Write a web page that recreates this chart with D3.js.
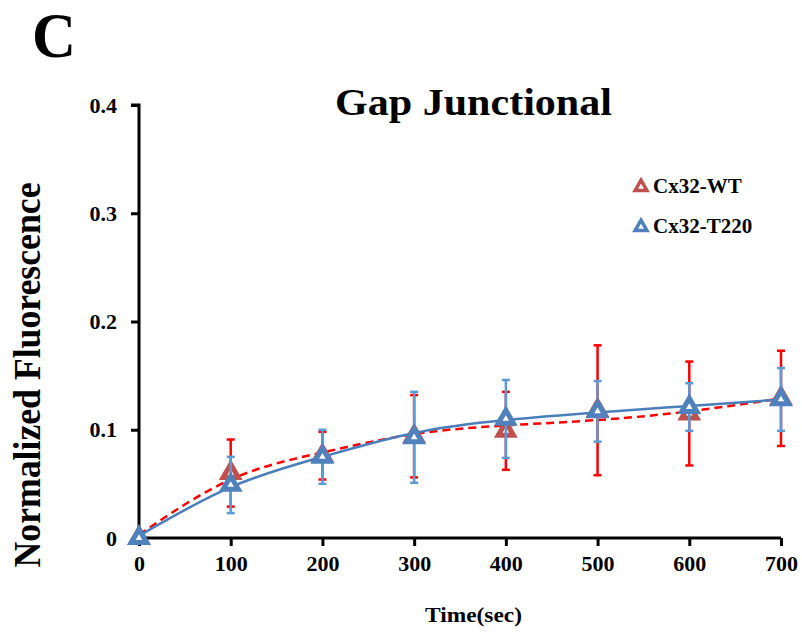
<!DOCTYPE html>
<html lang="en">
<head>
<meta charset="UTF-8">
<script src="https://d3js.org/d3.v7.min.js"></script>
<title>Gap Junctional</title>
<style>
  body { margin: 0; background: #fff; }
  text { font-family: "Liberation Serif", "Times New Roman", serif; font-weight: bold; fill: #000; }
</style>
</head>
<body>
<script>
// time points (sec)
const times = [0, 100, 200, 300, 400, 500, 600, 700];

// Cx32-WT
const wtMean = [0, 0.060, 0.076, 0.094, 0.099, 0.118, 0.115, 0.129];
const wtErr  = [0, 0.031, 0.022, 0.038, 0.036, 0.060, 0.048, 0.044];
const wtFit  = [0.003, 0.054, 0.079, 0.096, 0.104, 0.109, 0.117, 0.129];

// Cx32-T220
const tMean = [0, 0.049, 0.075, 0.093, 0.110, 0.117, 0.121, 0.128];
const tErr  = [0, 0.026, 0.025, 0.042, 0.036, 0.028, 0.022, 0.029];
const tFit  = [0.002, 0.047, 0.075, 0.097, 0.109, 0.116, 0.122, 0.128];

const yTicks = [0, 0.1, 0.2, 0.3, 0.4];
const xTicks = [0, 100, 200, 300, 400, 500, 600, 700];

const W = 802, H = 633;
const svg = d3.select("body").append("svg").attr("width", W).attr("height", H);

const x = d3.scaleLinear().domain([0, 700]).range([139, 781]);
const y = d3.scaleLinear().domain([0, 0.4]).range([538, 105]);

const stretch = (sel, len) => sel.attr("textLength", len).attr("lengthAdjust", "spacingAndGlyphs");

// panel letter, title
stretch(svg.append("text").attr("x", 32).attr("y", 57).attr("font-size", 64).text("C"), 44);
stretch(svg.append("text").attr("x", 335).attr("y", 115).attr("font-size", 37).text("Gap Junctional"), 277);

// axes
const yAxis = svg.append("g").attr("transform", "translate(139,0)")
  .call(d3.axisLeft(y).tickValues(yTicks).tickSize(8).tickFormat(d => d === 0 ? "0" : d3.format(".1f")(d)));
const xAxis = svg.append("g").attr("transform", "translate(0,538)")
  .call(d3.axisBottom(x).tickValues(xTicks).tickSize(8));
[yAxis, xAxis].forEach(g => {
  g.select(".domain").attr("stroke", "#000").attr("stroke-width", 3);
  g.selectAll(".tick line").attr("stroke", "#000").attr("stroke-width", 3);
  g.selectAll(".tick text").attr("font-size", 22).attr("font-family", "Liberation Serif").attr("font-weight", "bold");
});
yAxis.select(".domain").attr("d", "M-8,105H0V538");
xAxis.select(".domain").attr("d", "M139,0H781");
yAxis.selectAll(".tick text").attr("x", -22);
xAxis.selectAll(".tick text").attr("y", 17);

// axis titles
stretch(svg.append("text").attr("transform", "translate(40,375) rotate(-90)").attr("text-anchor", "middle")
  .attr("font-size", 37).text("Normalized Fluorescence"), 385);
stretch(svg.append("text").attr("x", 425).attr("y", 622)
  .attr("font-size", 22).text("Time(sec)"), 97);

const series = [
  { mean: wtMean, err: wtErr, fit: wtFit, line: "#ff0000", dash: "8,5", bar: "#ff0000", mark: "#c0504d" },
  { mean: tMean, err: tErr, fit: tFit, line: "#4a7ebb", dash: null, bar: "#5b9bd5", mark: "#4f81bd" }
];

const tri = d3.symbol().type(d3.symbolTriangle).size(100);

series.forEach(s => {
  const g = svg.append("g");
  const pts = times.map((t, i) => ({ t, m: s.mean[i], e: s.err[i], f: s.fit[i] }));
  // error bars
  pts.filter(p => p.e > 0).forEach(p => {
    g.append("line").attr("x1", x(p.t)).attr("x2", x(p.t)).attr("y1", y(p.m - p.e)).attr("y2", y(p.m + p.e))
      .attr("stroke", s.bar).attr("stroke-width", 2.5);
    [p.m - p.e, p.m + p.e].forEach(v => {
      g.append("line").attr("x1", x(p.t) - 4).attr("x2", x(p.t) + 4).attr("y1", y(v)).attr("y2", y(v))
        .attr("stroke", s.bar).attr("stroke-width", 2.5);
    });
  });
  // fitted curve
  g.append("path").datum(pts)
    .attr("d", d3.line().x(p => x(p.t)).y(p => y(p.f)).curve(d3.curveNatural))
    .attr("fill", "none").attr("stroke", s.line).attr("stroke-width", 2.5)
    .attr("stroke-dasharray", s.dash);
  s.g = g; s.pts = pts;
});

// markers on top
series.forEach(s => {
  s.g.selectAll("path.mk").data(s.pts).enter().append("path").attr("class", "mk")
    .attr("d", tri).attr("transform", p => `translate(${x(p.t)},${y(p.m)})`)
    .attr("fill", "#fff").attr("stroke", s.mark).attr("stroke-width", 5);
});

// legend
const legend = [["Cx32-WT", "#c0504d"], ["Cx32-T220", "#4f81bd"]];
legend.forEach(([name, col], i) => {
  const ly = 187 + i * 40;
  svg.append("path").attr("d", d3.symbol().type(d3.symbolTriangle).size(60))
    .attr("transform", `translate(641,${ly})`).attr("fill", "#fff").attr("stroke", col).attr("stroke-width", 3.5);
  svg.append("text").attr("x", 653).attr("y", ly + 6).attr("font-size", 21).text(name);
});
</script>
</body>
</html>
